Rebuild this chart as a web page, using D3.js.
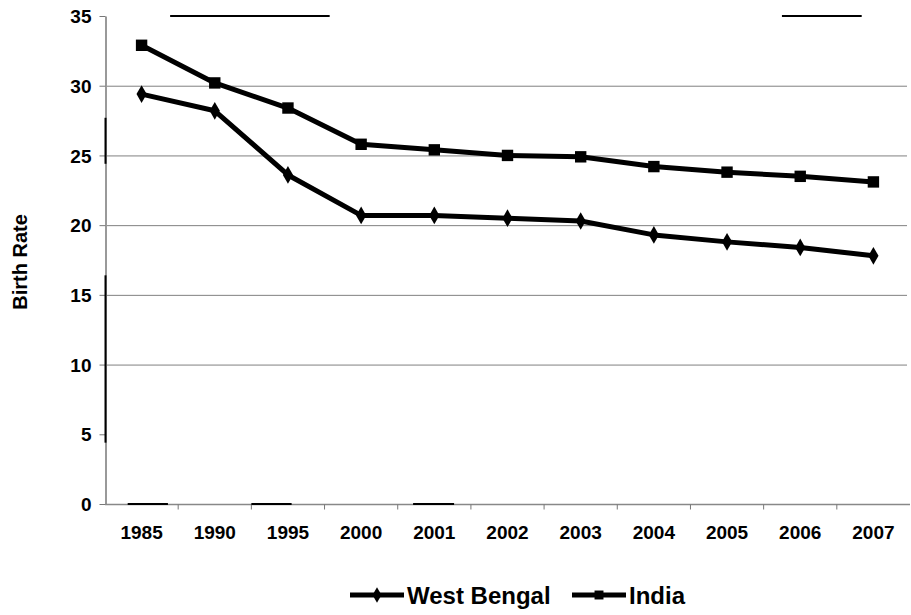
<!DOCTYPE html>
<html><head><meta charset="utf-8">
<script src="https://cdn.jsdelivr.net/npm/d3@7"></script>
<style>
body{margin:0;background:#fff;}
text{font-family:"Liberation Sans",Arial,sans-serif;font-weight:bold;fill:#000;}
</style></head>
<body><svg id="chart" width="911" height="615"></svg>
<script>
const years = ["1985","1990","1995","2000","2001","2002","2003","2004","2005","2006","2007"];
const westBengal = [29.4,28.2,23.6,20.7,20.7,20.5,20.3,19.3,18.8,18.4,17.8];
const india = [32.9,30.2,28.4,25.8,25.4,25.0,24.9,24.2,23.8,23.5,23.1];
const yTicks = [0,5,10,15,20,25,30,35];
const gridValues = [10,15,20,25,30];
const seriesNames = ["West Bengal","India"];

const svg = d3.select("#chart");
const m = {left:105, right:910, top:16, bottom:504};
const x = d3.scaleBand().domain(years).range([m.left, m.right]);
const y = d3.scaleLinear().domain([0,35]).range([m.bottom, m.top]);
const bw = x.bandwidth();

// gridlines
svg.append("g").selectAll("line").data(gridValues).join("line")
  .attr("x1", m.left).attr("x2", m.right - 3)
  .attr("y1", d=>y(d)+0.5).attr("y2", d=>y(d)+0.5)
  .attr("stroke", "#808080").attr("stroke-width", 1);

// stray dark segments present in the original picture
const topSegs = [["1985",0.89,"2000",0.07],["2006",0.25,"2007",0.34]];
svg.append("g").selectAll("line").data(topSegs).join("line")
  .attr("x1", d=>x(d[0])+bw*d[1]).attr("x2", d=>x(d[2])+bw*d[3])
  .attr("y1", y(35)).attr("y2", y(35))
  .attr("stroke", "#000").attr("stroke-width", 2);

// y axis
const yAxis = svg.append("g").attr("transform", `translate(${m.left+0.5},0)`)
  .call(d3.axisLeft(y).tickValues(yTicks).tickSize(6).tickSizeOuter(0).tickPadding(8));
yAxis.select(".domain").attr("stroke", "#999").attr("stroke-width", 2);
yAxis.selectAll(".tick line").attr("stroke", "#777");
yAxis.selectAll("text").style("font-size", "19px").style("font-family", '"Liberation Sans",Arial,sans-serif').style("font-weight","bold").attr("dy","0.35em");
// dark segments on y axis
[[27.7,24.4],[16.4,4.4]].forEach(s=>{
  svg.append("line").attr("x1", m.left+0.5).attr("x2", m.left+0.5)
    .attr("y1", y(s[0])).attr("y2", y(s[1])).attr("stroke","#000").attr("stroke-width",2);
});

// x axis
const xAxisG = svg.append("g").attr("transform", `translate(0,${m.bottom+0.5})`);
xAxisG.append("line").attr("x1", m.left).attr("x2", m.right).attr("stroke","#888").attr("stroke-width",1.5);
xAxisG.selectAll(".tk").data(years.slice(1)).join("line")
  .attr("x1", d=>x(d)).attr("x2", d=>x(d))
  .attr("y1", 0).attr("y2", 5).attr("stroke","#777");
const botSegs = [["1985",0.31,0.86],["1995",0.0,0.55],["2001",0.21,0.77]];
xAxisG.selectAll(".bk").data(botSegs).join("line")
  .attr("x1", d=>x(d[0])+bw*d[1]).attr("x2", d=>x(d[0])+bw*d[2])
  .attr("y1", -0.5).attr("y2",-0.5).attr("stroke","#000").attr("stroke-width",2);
xAxisG.selectAll("text").data(years).join("text")
  .attr("x", d=>x(d)+bw/2).attr("y", 34)
  .attr("text-anchor","middle").style("font-size","19px").text(d=>d);

// y label
svg.append("text").attr("transform","translate(27,262) rotate(-90)")
  .attr("text-anchor","middle").style("font-size","20px").text("Birth Rate");

const line = d3.line().x((d,i)=>x(years[i])+bw/2).y(d=>y(d));
const diamond = d3.symbol().type(d3.symbolDiamond).size(90);
const square = d3.symbol().type(d3.symbolSquare).size(130);

function drawSeries(vals, sym){
  svg.append("path").datum(vals).attr("d", line).attr("fill","none")
    .attr("stroke","#000").attr("stroke-width",5).attr("stroke-linejoin","round");
  svg.append("g").selectAll("path").data(vals).join("path")
    .attr("transform",(d,i)=>`translate(${x(years[i])+bw/2},${y(d)})`)
    .attr("d", sym).attr("fill","#000");
}
drawSeries(westBengal, diamond);
drawSeries(india, square);

// legend
const leg = [{name:seriesNames[0], sym:d3.symbol().type(d3.symbolDiamond).size(70), x0:350, tx:407},
             {name:seriesNames[1], sym:d3.symbol().type(d3.symbolSquare).size(80), x0:572, tx:629}];
const ly = 595;
leg.forEach(l=>{
  svg.append("line").attr("x1",l.x0).attr("x2",l.x0+54).attr("y1",ly).attr("y2",ly)
    .attr("stroke","#000").attr("stroke-width",5);
  svg.append("path").attr("d", l.sym).attr("transform",`translate(${l.x0+27},${ly})`).attr("fill","#000");
  svg.append("text").attr("x", l.tx).attr("y", ly+9).style("font-size","24px").text(l.name);
});
</script></body></html>
